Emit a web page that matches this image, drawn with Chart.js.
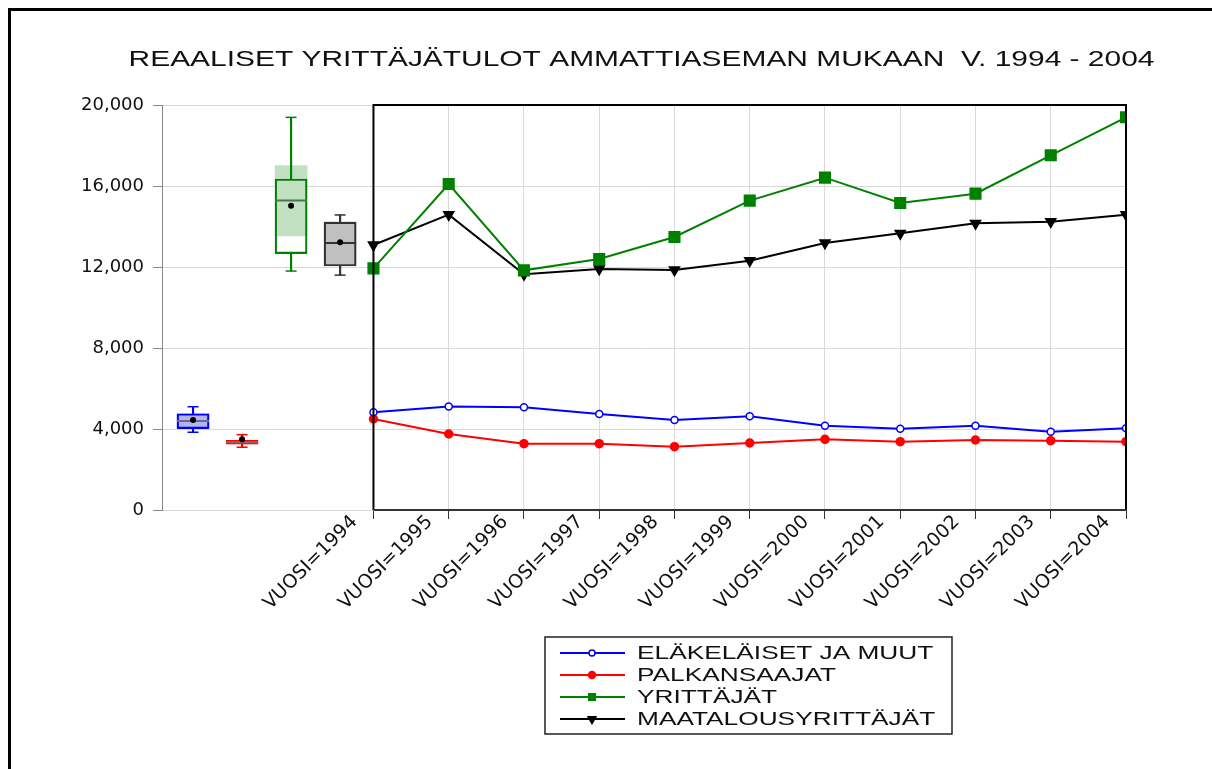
<!DOCTYPE html>
<html lang="fi">
<head>
<meta charset="UTF-8">
<title>Reaaliset yrittäjätulot</title>
<script src="https://cdn.jsdelivr.net/npm/chart.js"></script>
<style>
  body { margin: 0; background: #fff; overflow: hidden; }
  #wrap { position: relative; width: 1212px; height: 769px; }
  #frame { position: absolute; left: 8px; top: 8px; width: 1300px; height: 900px;
           border: 3px solid #000; pointer-events: none; }
</style>
</head>
<body>
<div id="wrap">
  <canvas id="chart"></canvas>
  <div id="frame"></div>
</div>
<script>
const chartTitle = 'REAALISET YRITTÄJÄTULOT AMMATTIASEMAN MUKAAN  V. 1994 - 2004';
const years = [1994, 1995, 1996, 1997, 1998, 1999, 2000, 2001, 2002, 2003, 2004];
const seriesNames = ['ELÄKELÄISET JA MUUT', 'PALKANSAAJAT', 'YRITTÄJÄT', 'MAATALOUSYRITTÄJÄT'];
const elakelaiset = [4825, 5110, 5070, 4741, 4444, 4626, 4165, 4016, 4165, 3868, 4032];
const palkansaajat = [4494, 3753, 3276, 3276, 3128, 3309, 3490, 3374, 3457, 3424, 3374];
const yrittajat = [11934, 16099, 11835, 12395, 13481, 15276, 16411, 15160, 15621, 17516, 19392];
const maatalous = [13086, 14584, 11638, 11901, 11852, 12313, 13185, 13662, 14156, 14239, 14584];
const yTicks = [0, 4000, 8000, 12000, 16000, 20000];

// box plot figures per series
const boxMin = [3840, 3100, 11800, 11600];
const boxQ1 = [4015, 3245, 12660, 12050];
const boxMedian = [4395, 3345, 15290, 13185];
const boxQ3 = [4755, 3440, 16345, 14220];
const boxMax = [5100, 3720, 19390, 14570];
const boxMean = [4444, 3490, 15030, 13220];
const ciLow = [4045, 3250, 13530, 12135];
const ciHigh = [4745, 3435, 17005, 14220];

const boxIdx = [0, 1, 2, 3];
const boxColors = ['#0000ff', '#ff0000', '#008000', '#333333'];
const ciFill = ['#b4b4f0', '#ffe4e4', '#c2e0c2', '#c0c0c0'];
const medianColors = ['#6a6a90', '#a06060', '#4d744d', '#333333'];

const lineStyles = [
  { color: '#0000ff', pointStyle: 'circle', radius: 3.5, fill: '#ffffff', rot: 0, legendR: 3 },
  { color: '#ff0000', pointStyle: 'circle', radius: 4, fill: '#ff0000', rot: 0, legendR: 3.5 },
  { color: '#008000', pointStyle: 'rect', radius: 7.5, fill: '#008000', rot: 0, legendR: 4.7 },
  { color: '#000000', pointStyle: 'triangle', radius: 5.8, fill: '#000000', rot: 180, legendR: 4.6 }
];
const seriesValues = [elakelaiset, palkansaajat, yrittajat, maatalous];

const lineSets = seriesValues.map((vals, s) => ({
  type: 'line',
  label: seriesNames[s],
  xAxisID: 'xYear',
  data: years.map((yr, i) => ({ x: yr, y: vals[i] })),
  borderColor: lineStyles[s].color,
  borderWidth: 2,
  tension: 0,
  fill: false,
  pointStyle: lineStyles[s].pointStyle,
  pointRotation: lineStyles[s].rot,
  pointRadius: lineStyles[s].radius,
  pointBackgroundColor: lineStyles[s].fill,
  pointBorderColor: lineStyles[s].color,
  pointBorderWidth: 1.5,
  legendRadius: lineStyles[s].legendR,
  order: 0
}));

const boxSets = [
  { type: 'bar', xAxisID: 'xBox', data: boxIdx.map(i => ({ x: i, y: [ciLow[i], ciHigh[i]] })),
    backgroundColor: ciFill, borderWidth: 0, barThickness: 32, grouped: false, order: 6 },
  { type: 'bar', xAxisID: 'xBox', data: boxIdx.map(i => ({ x: i, y: [boxMin[i], boxQ1[i]] })),
    backgroundColor: boxColors, borderWidth: 0, barThickness: 1.5, grouped: false, order: 5 },
  { type: 'bar', xAxisID: 'xBox', data: boxIdx.map(i => ({ x: i, y: [boxQ3[i], boxMax[i]] })),
    backgroundColor: boxColors, borderWidth: 0, barThickness: 1.5, grouped: false, order: 5 },
  { type: 'bar', xAxisID: 'xBox', data: boxIdx.map(i => ({ x: i, y: [boxQ1[i], boxQ3[i]] })),
    backgroundColor: 'rgba(0,0,0,0)', borderColor: boxColors, borderWidth: 1.5, borderSkipped: false,
    barThickness: 32, grouped: false, order: 4 },
  { type: 'scatter', xAxisID: 'xBox',
    data: boxIdx.map(i => ({ x: i, y: boxMin[i] })).concat(boxIdx.map(i => ({ x: i, y: boxMax[i] }))),
    pointStyle: 'line', pointRadius: 5.5, pointBorderWidth: 1.5,
    pointBorderColor: boxColors.concat(boxColors), order: 3 },
  { type: 'scatter', xAxisID: 'xBox', data: boxIdx.map(i => ({ x: i, y: boxMedian[i] })),
    pointStyle: 'line', pointRadius: 16, pointBorderWidth: 2, pointBorderColor: medianColors, order: 2 },
  { type: 'scatter', xAxisID: 'xBox', data: boxIdx.map(i => ({ x: i, y: boxMean[i] })),
    pointStyle: 'circle', pointRadius: 3, pointBackgroundColor: '#000', pointBorderColor: '#000',
    pointBorderWidth: 0, order: 1 }
];

// stretched text, the picture uses a wide face
function wideText(ctx, text, x, y, font, sx, align) {
  ctx.save();
  ctx.font = font;
  ctx.fillStyle = '#111';
  ctx.textAlign = align;
  ctx.textBaseline = 'alphabetic';
  ctx.translate(x, y);
  ctx.scale(sx, 1);
  ctx.fillText(text, 0, 0);
  ctx.restore();
}

const sketchExtras = {
  id: 'sketchExtras',
  afterDraw(chart) {
    const { ctx, scales } = chart;
    const xs = scales.xYear, ys = scales.y;
    const left = xs.getPixelForValue(years[0]);
    const right = xs.getPixelForValue(years[years.length - 1]);
    const top = ys.getPixelForValue(yTicks[yTicks.length - 1]);
    const bottom = ys.getPixelForValue(yTicks[0]);

    ctx.save();
    ctx.strokeStyle = '#000';
    ctx.lineWidth = 2;
    ctx.beginPath();
    ctx.moveTo(left, bottom);
    ctx.lineTo(left, top);
    ctx.lineTo(right, top);
    ctx.lineTo(right, bottom);
    ctx.stroke();
    ctx.strokeStyle = '#333';
    ctx.beginPath();
    ctx.moveTo(left, bottom);
    ctx.lineTo(right + 1, bottom);
    ctx.stroke();
    ctx.restore();

    wideText(ctx, chartTitle, 641.5, 66, '22px "Liberation Sans", Arial, sans-serif', 1.36, 'center');

    // legend box
    ctx.save();
    ctx.strokeStyle = '#222';
    ctx.lineWidth = 1.5;
    ctx.strokeRect(545, 637, 407, 97);
    chart.data.datasets.filter(d => d.type === 'line').forEach((d, i) => {
      const cy = 653 + i * 22;
      ctx.strokeStyle = d.borderColor;
      ctx.lineWidth = 2;
      ctx.beginPath();
      ctx.moveTo(560, cy);
      ctx.lineTo(625, cy);
      ctx.stroke();
      ctx.fillStyle = d.pointBackgroundColor;
      ctx.strokeStyle = d.pointBorderColor;
      ctx.lineWidth = d.pointBorderWidth;
      Chart.helpers.drawPoint(ctx, {
        pointStyle: d.pointStyle, rotation: d.pointRotation, radius: d.legendRadius,
        borderWidth: d.pointBorderWidth
      }, 592, cy);
      wideText(ctx, d.label, 637, cy + 6, '18.5px "Liberation Sans", Arial, sans-serif', 1.42, 'left');
    });
    ctx.restore();
  }
};

new Chart(document.getElementById('chart'), {
  data: { datasets: boxSets.concat(lineSets) },
  options: {
    responsive: true,
    maintainAspectRatio: false,
    animation: false,
    events: [],
    layout: { padding: { left: 0, top: 105, right: 86, bottom: 0 } },
    plugins: { legend: { display: false }, tooltip: { enabled: false }, title: { display: false } },
    scales: {
      xYear: {
        type: 'linear', position: 'bottom', min: 1991.19, max: 2004, offset: false,
        afterBuildTicks: s => { s.ticks = years.map(v => ({ value: v })); },
        afterFit: s => { s.height = 259; },
        border: { display: false },
        grid: { color: '#d9d9d9', tickColor: '#333', tickLength: 9, lineWidth: 1, offset: false },
        ticks: {
          autoSkip: false, minRotation: 45, maxRotation: 45, labelOffset: -19, padding: -8,
          color: '#111', font: { family: 'DejaVu Sans', size: 19 },
          callback: v => 'VUOSI=' + v
        }
      },
      xBox: { type: 'linear', display: false, offset: false, grid: { offset: false }, min: -0.633, max: 19.03 },
      y: {
        type: 'linear', position: 'left', min: 0, max: 20000,
        afterBuildTicks: s => { s.ticks = yTicks.map(v => ({ value: v })); },
        afterFit: s => { s.width = 162; },
        border: { display: true, color: '#888', width: 1 },
        grid: { color: '#d9d9d9', tickColor: '#888', tickLength: 9 },
        ticks: {
          padding: 9, color: '#111', font: { family: 'DejaVu Sans', size: 18 },
          callback: v => v.toLocaleString('en-US')
        }
      }
    }
  },
  plugins: [sketchExtras]
});
</script>
</body>
</html>
